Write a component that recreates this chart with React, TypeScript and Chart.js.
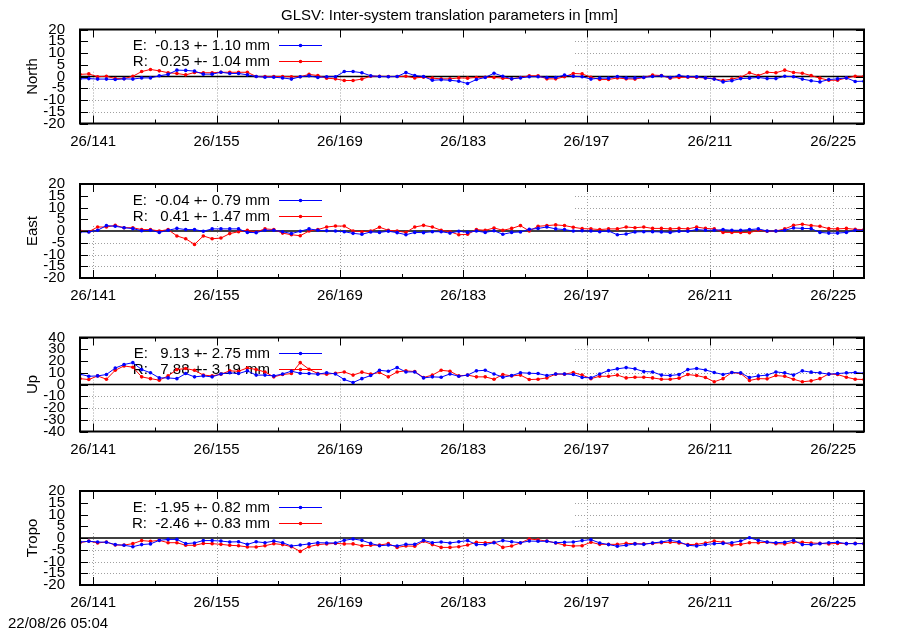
import { useEffect, useRef } from "react";
import { Chart, registerables } from "chart.js";

Chart.register(...registerables);

// ---------------- data ----------------
const FIRST_DAY = 139.5; // first daily solution (day of year, noon)
const X_MIN = 139.5;
const X_MAX = 228.5;
const YEAR_PREFIX = "26/";
const TICK_DAYS = [141, 148, 155, 162, 169, 176, 183, 190, 197, 204, 211, 218, 225];
const LABEL_DAYS = [141, 155, 169, 183, 197, 211, 225];

const TITLE = "GLSV: Inter-system translation parameters in [mm]";
const TIMESTAMP = "22/08/26 05:04";

const PANEL_NAMES = ["North", "East", "Up", "Tropo"];
const Y_LIMITS = [20, 20, 40, 20];
const Y_STEPS = [5, 5, 10, 5];
const KEY_E = ["E:  -0.13 +- 1.10 mm", "E:  -0.04 +- 0.79 mm", "E:   9.13 +- 2.75 mm", "E:  -1.95 +- 0.82 mm"];
const KEY_R = ["R:   0.25 +- 1.04 mm", "R:   0.41 +- 1.47 mm", "R:   7.88 +- 3.19 mm", "R:  -2.46 +- 0.83 mm"];

const northE = [
  -1.0, -0.9, -1.1, -1.1, -1.3, -1.0, -1.1, -0.6, -0.6, 0.3, 0.9, 2.7, 2.6, 2.3, 1.0, 1.0, 1.8, 1.3, 1.3, 0.7, 0.0, -0.3, -0.3, -0.6, -1.1, -0.1, 0.3, -0.4, -0.1, -0.1, 2.1, 2.1, 1.6, 0.3, 0.0, -0.1, 0.0, 1.7, 0.4, 0.0, -1.6, -1.4, -1.6,
  -2.0, -3.0, -1.3, -0.4, 1.4, 0.1, -1.0, -0.6, -0.1, -0.1, -0.4, -0.4, 0.6, 0.1, -0.1, -1.1, -0.7, -0.7, 0.0, -0.6, -0.6, -0.4, 0.0, 0.3, -0.4, 0.4, -0.1, -0.1, -0.6, -1.1, -2.3, -1.8, -0.9, -0.7, -0.4, -0.9, -0.9, 0.1, -0.1, -1.1, -1.8, -2.3, -1.3, -1.0, -0.6, -2.1, -2.0,
];
const northR = [
  0.9, 1.1, -0.1, 0.1, -0.9, -0.9, 0.1, 2.1, 3.0, 2.4, 1.6, 1.3, 0.7, 1.7, 1.6, 1.6, 1.8, 1.8, 1.8, 1.8, 0.0, 0.0, 0.0, 0.0, -0.1, -0.1, 0.9, 0.4, -0.7, -1.0, -1.7, -1.7, -1.1, 0.1, 0.1, 0.0, 0.0, 0.1, -0.6, -0.3, -0.7, -1.0, -1.0,
  -0.6, -0.7, -0.4, -0.3, -0.4, -0.7, -1.0, -0.4, 0.3, 0.3, -1.0, -1.0, -0.1, 1.3, 1.1, -0.3, -1.3, -1.3, -0.6, -1.0, -1.1, -0.4, 0.6, 0.4, -0.7, -0.4, -0.3, -0.4, -0.6, -1.0, -1.7, -1.1, -0.3, 1.6, 0.4, 1.8, 1.6, 2.7, 1.7, 1.4, 0.4, -0.7, -1.6, -1.6, -0.6, 0.1, 0.1,
];
const eastE = [
  -0.4, -0.4, 0.3, 2.3, 2.0, 1.4, 1.0, 0.1, 0.3, -0.6, 0.3, 1.1, 0.6, 0.6, -0.1, 0.9, 0.9, 0.9, 0.9, -0.6, -0.7, 0.3, 0.3, -0.3, -1.1, -0.1, 0.9, 0.3, 0.1, 0.0, -0.3, -1.0, -1.4, -0.4, -0.6, -0.1, -0.7, -1.6, -0.6, -0.7, -0.3, -0.3, -0.9,
  -0.1, -0.6, 0.0, -0.6, 0.1, -1.4, -0.6, -0.4, 0.7, 1.1, 1.7, 0.9, 0.6, 0.0, 0.1, 0.0, -0.3, 0.0, -1.6, -1.3, -0.4, -0.3, -0.3, -0.4, -0.6, -0.1, -0.1, 0.6, 0.3, 0.3, 0.6, 0.3, 0.3, 0.6, 0.9, 0.0, 0.0, 0.3, 1.3, 1.1, 1.0, -0.6, -0.9, -0.9, -0.6, 0.3, 0.3,
];
const eastR = [
  0.0, -0.3, 1.7, 1.7, 2.4, 1.4, 1.4, 0.6, 0.6, 0.0, 0.6, -2.1, -3.3, -5.7, -2.1, -3.3, -3.0, -1.1, -0.3, 0.3, -0.4, 0.9, 0.6, -0.9, -1.6, -2.0, 0.0, 0.6, 1.7, 2.1, 2.1, 0.0, -0.3, 0.0, 1.6, 0.3, 0.0, -0.6, 1.7, 2.4, 1.7, 0.3, -0.3,
  -1.6, -1.4, 0.6, 0.3, 1.3, 0.3, 1.1, 2.3, 0.0, 2.0, 2.3, 2.6, 2.3, 1.6, 1.0, 0.9, 0.6, 0.9, 0.9, 1.7, 1.4, 1.7, 1.1, 1.1, 0.9, 1.1, 0.9, 1.7, 1.1, 0.9, -0.6, -0.6, -0.6, -0.7, 0.3, -0.1, 0.0, 0.9, 2.4, 2.9, 2.3, 2.0, 1.0, 0.9, 1.1, 0.7, 0.6,
];
const upE = [
  8.8, 7.0, 7.3, 8.5, 14.0, 17.0, 18.6, 12.7, 10.0, 5.6, 5.6, 5.0, 9.3, 6.5, 7.3, 6.5, 9.0, 10.0, 9.3, 11.6, 8.0, 8.0, 7.3, 9.0, 11.3, 9.6, 9.3, 8.8, 10.0, 9.0, 4.2, 1.7, 5.0, 7.6, 12.1, 11.3, 14.4, 10.7, 10.7, 5.6, 6.5, 6.2, 9.0,
  7.0, 8.0, 11.6, 12.1, 9.0, 6.2, 7.6, 10.0, 9.6, 9.3, 7.6, 9.0, 9.0, 8.5, 6.0, 5.6, 9.0, 11.9, 13.3, 14.4, 13.3, 11.0, 10.7, 8.0, 7.6, 8.5, 12.7, 13.6, 12.4, 10.2, 8.5, 10.2, 9.9, 6.0, 7.3, 8.0, 10.7, 9.9, 8.0, 11.6, 10.5, 9.9, 8.8, 9.3, 9.9, 10.2, 9.6,
];
const upR = [
  5.0, 4.2, 7.3, 4.5, 12.1, 15.8, 14.7, 6.5, 5.0, 3.7, 7.3, 12.7, 13.6, 12.1, 8.0, 7.3, 8.8, 11.6, 11.3, 14.1, 12.7, 10.7, 6.5, 8.5, 9.3, 18.6, 13.0, 9.3, 8.8, 9.6, 10.7, 8.0, 10.5, 8.8, 10.2, 6.5, 10.7, 11.6, 11.0, 6.0, 8.0, 12.1, 11.3,
  7.3, 8.0, 6.5, 6.5, 4.5, 8.5, 7.3, 8.0, 4.2, 4.5, 5.6, 8.8, 8.8, 10.2, 8.0, 5.0, 7.0, 7.0, 8.0, 5.6, 6.2, 6.2, 5.6, 4.5, 4.5, 5.4, 8.5, 7.6, 6.0, 2.3, 5.0, 10.2, 9.3, 3.4, 5.0, 4.8, 7.6, 7.0, 4.5, 2.3, 3.1, 5.0, 9.0, 8.5, 6.2, 4.5, 4.2,
];
const tropoE = [
  -1.7, -1.4, -1.7, -1.8, -2.8, -3.1, -3.7, -2.8, -2.5, -1.0, -0.6, -0.6, -2.4, -2.1, -1.1, -1.1, -1.3, -1.7, -1.6, -2.7, -1.6, -2.0, -1.3, -2.0, -3.4, -3.0, -2.5, -2.0, -2.1, -2.1, -1.0, -0.4, -1.0, -2.3, -3.3, -3.0, -3.4, -2.7, -2.7, -1.0, -2.0, -1.7, -2.1,
  -1.6, -1.1, -2.8, -2.8, -2.0, -1.1, -1.6, -2.0, -1.3, -1.4, -1.4, -2.0, -1.8, -1.7, -1.1, -0.7, -2.1, -2.8, -3.5, -3.1, -2.5, -2.7, -2.1, -1.7, -1.0, -1.6, -3.1, -3.4, -2.8, -2.4, -2.3, -2.0, -1.3, 0.1, -1.0, -1.7, -2.0, -1.8, -1.0, -2.8, -2.8, -2.4, -2.0, -1.8, -2.4, -2.4, -2.4,
];
const tropoR = [
  -2.0, -1.3, -2.1, -1.7, -3.0, -3.0, -2.4, -1.1, -1.4, -1.0, -2.0, -2.0, -3.1, -3.1, -2.3, -2.4, -2.7, -3.1, -3.3, -3.8, -3.8, -3.3, -2.4, -2.8, -3.7, -5.7, -3.7, -2.8, -2.5, -2.3, -2.5, -2.5, -3.3, -3.1, -3.0, -2.4, -4.0, -3.4, -3.5, -1.4, -2.8, -4.0, -4.0,
  -3.7, -3.0, -1.8, -2.0, -1.8, -4.0, -3.4, -2.1, -0.4, -0.8, -1.3, -2.1, -3.0, -3.4, -3.3, -1.8, -2.7, -2.7, -2.7, -2.3, -2.4, -2.5, -2.3, -2.0, -1.8, -2.1, -2.8, -2.7, -2.1, -1.3, -1.8, -3.0, -2.7, -2.0, -2.0, -1.8, -2.4, -2.5, -1.8, -1.8, -2.1, -2.3, -2.5, -2.3, -2.4, -2.3, -2.4,
];

const E_SERIES = [northE, eastE, upE, tropoE];
const R_SERIES = [northR, eastR, upR, tropoR];

// ---------------- styles / layout ----------------
const FONT = '"Liberation Sans", Arial, Helvetica, sans-serif';
const FONT_SIZE = 15;
const BLUE = "#0000ff";
const RED = "#ff0000";
const GRID_COLOR = "#a0a0a0";
const W = 900;
const H = 630;
const PANEL_TOPS = [29.5, 184, 337.5, 491];
const PANEL_H = 94;
const PLOT_LEFT = 80;
const PLOT_RIGHT = 864;
const X_AXIS_H = 34;
const X_LABEL_PAD = 1;
const KEY_BOX_RIGHT = 573;
const KEY_BOX_H = 42;
const KEY_TEXT_RIGHT = 190;
const KEY_LINE_X0 = 199;
const KEY_LINE_X1 = 242;
const KEY_LINE_Y0 = 15.5;
const KEY_TEXT_Y0 = 20.5;
const KEY_ROW_GAP = 16;

const toPoints = (vals: number[]) => vals.map((v, i) => ({ x: FIRST_DAY + i, y: v }));

function gnuplotPlugin(k: number) {
  return {
    id: "gnuplotFrame" + k,
    beforeDatasetsDraw(chart: any) {
      const { ctx, chartArea: a } = chart;
      const xs = chart.scales.x;
      const ys = chart.scales.y;
      const lim = Y_LIMITS[k];
      ctx.save();
      // dotted grid
      ctx.strokeStyle = GRID_COLOR;
      ctx.lineWidth = 1;
      ctx.setLineDash([1, 2]);
      ctx.beginPath();
      ys.ticks.forEach((t: any) => {
        if (t.value === 0 || Math.abs(t.value) >= lim) return;
        const py = Math.round(ys.getPixelForValue(t.value)) + 0.5;
        ctx.moveTo(a.left, py);
        ctx.lineTo(a.right, py);
      });
      LABEL_DAYS.forEach((d) => {
        const px = Math.round(xs.getPixelForValue(d)) + 0.5;
        ctx.moveTo(px, a.top);
        ctx.lineTo(px, a.bottom);
      });
      ctx.stroke();
      ctx.setLineDash([]);
      // opaque key box
      ctx.fillStyle = "#ffffff";
      ctx.fillRect(a.left, a.top, KEY_BOX_RIGHT - a.left, KEY_BOX_H);
      // zero axis
      const y0 = ys.getPixelForValue(0);
      ctx.strokeStyle = "#000";
      ctx.lineWidth = 1.5;
      ctx.beginPath();
      ctx.moveTo(a.left, y0);
      ctx.lineTo(a.right, y0);
      ctx.stroke();
      // key
      ctx.font = `${FONT_SIZE}px ${FONT}`;
      ctx.textAlign = "right";
      ctx.textBaseline = "alphabetic";
      const rows: [string, string][] = [
        [KEY_E[k], BLUE],
        [KEY_R[k], RED],
      ];
      rows.forEach(([txt, col], r) => {
        ctx.fillStyle = "#000";
        ctx.fillText(txt, a.left + KEY_TEXT_RIGHT, a.top + KEY_TEXT_Y0 + r * KEY_ROW_GAP);
        const ly = Math.round(a.top + KEY_LINE_Y0 + r * KEY_ROW_GAP) + 0.5;
        ctx.strokeStyle = col;
        ctx.lineWidth = 1;
        ctx.beginPath();
        ctx.moveTo(a.left + KEY_LINE_X0, ly);
        ctx.lineTo(a.left + KEY_LINE_X1, ly);
        ctx.stroke();
        ctx.fillStyle = col;
        ctx.beginPath();
        ctx.arc(a.left + (KEY_LINE_X0 + KEY_LINE_X1) / 2, ly, 1.8, 0, Math.PI * 2);
        ctx.fill();
      });
      ctx.restore();
    },
    afterDatasetsDraw(chart: any) {
      const { ctx, chartArea: a } = chart;
      const xs = chart.scales.x;
      const ys = chart.scales.y;
      ctx.save();
      // inward tick marks
      ctx.strokeStyle = "#000";
      ctx.lineWidth = 1;
      ctx.beginPath();
      TICK_DAYS.forEach((d) => {
        const px = Math.round(xs.getPixelForValue(d)) + 0.5;
        const len = LABEL_DAYS.includes(d) ? 8 : 4;
        ctx.moveTo(px, a.bottom);
        ctx.lineTo(px, a.bottom - len);
        ctx.moveTo(px, a.top);
        ctx.lineTo(px, a.top + len);
      });
      ys.ticks.forEach((t: any) => {
        const py = Math.round(ys.getPixelForValue(t.value)) + 0.5;
        ctx.moveTo(a.left, py);
        ctx.lineTo(a.left + 8, py);
        ctx.moveTo(a.right, py);
        ctx.lineTo(a.right - 8, py);
      });
      ctx.stroke();
      // frame
      ctx.lineWidth = 2;
      ctx.strokeRect(a.left, a.top, a.right - a.left, a.bottom - a.top);
      // y title
      ctx.fillStyle = "#000";
      ctx.font = `${FONT_SIZE}px ${FONT}`;
      ctx.textAlign = "center";
      ctx.textBaseline = "alphabetic";
      ctx.translate(36.5, (a.top + a.bottom) / 2);
      ctx.rotate(-Math.PI / 2);
      ctx.fillText(PANEL_NAMES[k], 0, 0);
      ctx.restore();
    },
    afterDraw(chart: any) {
      const { ctx } = chart;
      ctx.save();
      ctx.fillStyle = "#000";
      ctx.font = `${FONT_SIZE}px ${FONT}`;
      ctx.textBaseline = "alphabetic";
      if (k === 0) {
        ctx.textAlign = "center";
        ctx.fillText(TITLE, 449.5, 20);
      }
      if (k === PANEL_NAMES.length - 1) {
        ctx.textAlign = "left";
        ctx.fillText(TIMESTAMP, 8, 628);
      }
      ctx.restore();
    },
  };
}

function makeConfig(k: number): any {
  const lim = Y_LIMITS[k];
  const top = PANEL_TOPS[k];
  const bottom = top + PANEL_H;
  const tickFont = { family: FONT, size: FONT_SIZE };
  const ds = (label: string, vals: number[], col: string) => ({
    label,
    data: toPoints(vals),
    borderColor: col,
    backgroundColor: col,
    borderWidth: 1,
    pointRadius: 1.8,
    pointBorderWidth: 0,
    pointHoverRadius: 1.8,
    tension: 0,
    fill: false,
  });
  return {
    type: "line",
    data: {
      datasets: [ds("E", E_SERIES[k], BLUE), ds("R", R_SERIES[k], RED)],
    },
    options: {
      animation: false,
      responsive: false,
      events: [],
      layout: {
        padding: { left: 0, right: W - PLOT_RIGHT, top, bottom: H - bottom - X_AXIS_H },
      },
      plugins: { legend: { display: false }, tooltip: { enabled: false } },
      scales: {
        x: {
          type: "linear",
          min: X_MIN,
          max: X_MAX,
          grid: { display: false },
          border: { display: false },
          afterBuildTicks: (s: any) => {
            s.ticks = TICK_DAYS.map((v) => ({ value: v }));
          },
          afterFit: (s: any) => {
            s.height = X_AXIS_H;
          },
          ticks: {
            autoSkip: false,
            maxRotation: 0,
            minRotation: 0,
            padding: X_LABEL_PAD,
            color: "#000",
            font: tickFont,
            callback: (v: number) => (LABEL_DAYS.includes(v) ? YEAR_PREFIX + v : ""),
          },
        },
        y: {
          type: "linear",
          min: -lim,
          max: lim,
          grid: { display: false },
          border: { display: false },
          afterFit: (s: any) => {
            s.width = PLOT_LEFT;
          },
          ticks: {
            stepSize: Y_STEPS[k],
            autoSkip: false,
            padding: 7,
            color: "#000",
            font: tickFont,
            callback: (v: number) => String(v),
          },
        },
      },
    },
    plugins: [gnuplotPlugin(k)],
  };
}

export default function App() {
  const refs = useRef<(HTMLCanvasElement | null)[]>([]);
  useEffect(() => {
    document.body.style.margin = "0";
    const charts = PANEL_NAMES.map((_, k) => new Chart(refs.current[k] as HTMLCanvasElement, makeConfig(k)));
    return () => charts.forEach((c) => c.destroy());
  }, []);
  return (
    <div style={{ position: "relative", width: W, height: H, background: "#fff", overflow: "hidden" }}>
      {PANEL_NAMES.map((name, k) => (
        <canvas
          key={name}
          ref={(el) => {
            refs.current[k] = el;
          }}
          width={W}
          height={H}
          style={{ position: "absolute", left: 0, top: 0, width: W, height: H }}
        />
      ))}
    </div>
  );
}
